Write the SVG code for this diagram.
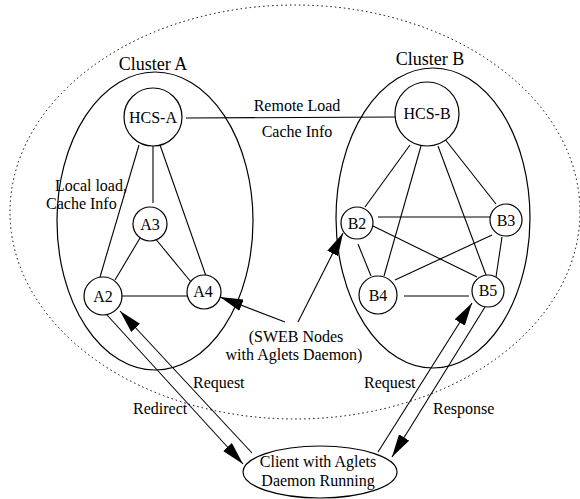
<svg xmlns="http://www.w3.org/2000/svg" width="580" height="499" viewBox="0 0 580 499">
<defs>
<marker id="ah" markerUnits="userSpaceOnUse" markerWidth="24" markerHeight="12" refX="23" refY="6" orient="auto">
<path d="M0,0 L23,6 L0,12 z" fill="#000"/>
</marker>
<style>
text{font-family:'Liberation Serif',Times,'DejaVu Serif',serif;font-size:16px;fill:#000}
.c{text-anchor:middle}
.big{font-size:18px}
.n{fill:#fff;stroke:#000;stroke-width:1.2}
.o{fill:none;stroke:#000;stroke-width:1.2}
.l{stroke:#000;stroke-width:1.1;fill:none}
.a{stroke:#000;stroke-width:1.1;fill:none;marker-end:url(#ah)}
</style>
</defs>
<rect width="580" height="499" fill="#fff"/>
<g id="outer">
<ellipse cx="295" cy="212" rx="285" ry="207" fill="none" stroke="#000" stroke-width="1" stroke-dasharray="1.5 3"/>
</g>
<g id="clusterA">
<ellipse class="o" cx="155" cy="221" rx="98" ry="149"/>
<text class="c big" x="153" y="70" font-family="Liberation Serif, serif">Cluster A</text>
</g>
<g id="clusterB">
<ellipse class="o" cx="433" cy="218" rx="97" ry="150"/>
<text class="c big" x="430" y="65" font-family="Liberation Serif, serif">Cluster B</text>
</g>
<g id="connectors">
<line class="l" x1="186" y1="118" x2="396" y2="117"/>
<line class="l" x1="153" y1="146" x2="153" y2="203"/>
<line class="l" x1="139" y1="145" x2="100" y2="277"/>
<line class="l" x1="160" y1="145" x2="206" y2="276"/>
<line class="l" x1="140" y1="238" x2="115" y2="280"/>
<line class="l" x1="154" y1="237" x2="191" y2="282"/>
<line class="l" x1="122" y1="296" x2="187" y2="296"/>
<line class="l" x1="410" y1="145" x2="365" y2="207"/>
<line class="l" x1="421" y1="146" x2="384" y2="276"/>
<line class="l" x1="438" y1="146" x2="486" y2="275"/>
<line class="l" x1="444" y1="138" x2="496" y2="204"/>
<line class="l" x1="378" y1="217" x2="490" y2="217"/>
<line class="l" x1="373" y1="226" x2="477" y2="277"/>
<line class="l" x1="358" y1="244" x2="371" y2="276"/>
<line class="l" x1="492" y1="235" x2="395" y2="280"/>
<line class="l" x1="502" y1="237" x2="496" y2="277"/>
<line class="l" x1="404" y1="296" x2="469" y2="296"/>
<line class="a" x1="285" y1="322" x2="220" y2="297"/>
<line class="a" x1="298" y1="322" x2="343" y2="233"/>
<line class="a" x1="107" y1="315" x2="243" y2="464"/>
<line class="a" x1="252" y1="453" x2="120" y2="311"/>
<line class="a" x1="378" y1="452" x2="472" y2="303"/>
<line class="a" x1="485" y1="307" x2="392" y2="457"/>
<text class="c" x="297" y="111">Remote Load</text>
<text class="c" x="297" y="137">Cache Info</text>
<text x="55" y="191">Local load,</text>
<text x="46" y="209">Cache Info</text>
<text class="c" x="296" y="342">(SWEB Nodes</text>
<text class="c" x="294" y="360">with Aglets Daemon)</text>
<text x="193" y="388">Request</text>
<text x="133" y="414">Redirect</text>
<text x="364" y="388">Request</text>
<text x="433" y="414">Response</text>
</g>
<g id="HCS-A"><circle class="n" cx="153" cy="117" r="29"/><text class="c" x="153" y="123">HCS-A</text></g>
<g id="HCS-B"><circle class="n" cx="427" cy="114" r="32"/><text class="c" x="427" y="119">HCS-B</text></g>
<g id="A3"><circle class="n" cx="150" cy="224" r="17"/><text class="c" x="150" y="230">A3</text></g>
<g id="A2"><circle class="n" cx="103" cy="296" r="19"/><text class="c" x="103" y="302">A2</text></g>
<g id="A4"><circle class="n" cx="204" cy="292" r="17"/><text class="c" x="203" y="297">A4</text></g>
<g id="B2"><circle class="n" cx="357" cy="223" r="16"/><text class="c" x="357" y="229">B2</text></g>
<g id="B3"><circle class="n" cx="506" cy="220" r="16"/><text class="c" x="506" y="226">B3</text></g>
<g id="B4"><circle class="n" cx="378" cy="295" r="19"/><text class="c" x="378" y="301">B4</text></g>
<g id="B5"><circle class="n" cx="488" cy="291" r="16"/><text class="c" x="488" y="296">B5</text></g>
<g id="client"><ellipse class="n" cx="320" cy="472" rx="77" ry="26"/><text class="c" x="318" y="467">Client with Aglets</text><text class="c" x="318" y="486">Daemon Running</text></g>
</svg>
